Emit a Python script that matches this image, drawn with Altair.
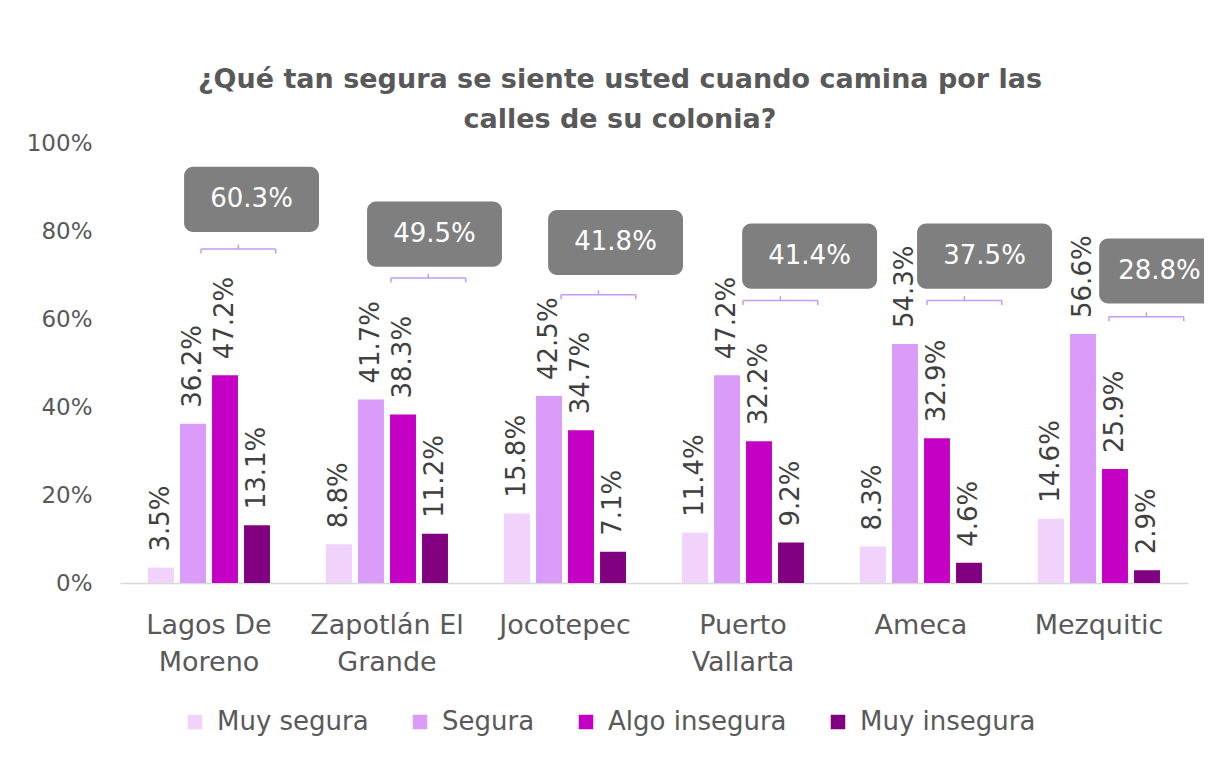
import altair as alt
import pandas as pd

FONT = "DejaVu Sans"

municipios = ["Lagos De\nMoreno", "Zapotlán El\nGrande", "Jocotepec", "Puerto\nVallarta", "Ameca", "Mezquitic"]
series = ["Muy segura", "Segura", "Algo insegura", "Muy insegura"]
muy_segura = [3.5, 8.8, 15.8, 11.4, 8.3, 14.6]
segura = [36.2, 41.7, 42.5, 47.2, 54.3, 56.6]
algo_insegura = [47.2, 38.3, 34.7, 32.2, 32.9, 25.9]
muy_insegura = [13.1, 11.2, 7.1, 9.2, 4.6, 2.9]
inseguridad_total = [60.3, 49.5, 41.8, 41.4, 37.5, 28.8]
colors = ["#f0d2fb", "#da9bf9", "#c400c4", "#800080"]

# callout placement (in value units / group units), as in the original layout
callout_y = [87.2, 79.3, 77.4, 74.3, 74.3, 70.9]
callout_dx = [0.239, 0.267, 0.284, 0.374, 0.357, 0.38]
callout_text_dx = [0.239, 0.267, 0.284, 0.374, 0.357, 0.34]
bracket_y = [75.9, 69.3, 65.5, 64.2, 64.2, 60.5]
bracket_dx = [-0.045, 0.022, -0.022, 0.0, 0.034, 0.056]
BOX_HALF_W = 0.379
BOX_HALF_H = 7.4
BR_W = 0.42
BR_TICK = 1.0

rows = []
for i, m in enumerate(municipios):
    for s, vals in zip(series, [muy_segura, segura, algo_insegura, muy_insegura]):
        rows.append({"municipio": m, "serie": s, "valor": vals[i], "etiqueta": f"{vals[i]:.1f}%"})
df = pd.DataFrame(rows)

ann = []
for i in range(len(municipios)):
    cx = i + callout_dx[i]
    bl = i + bracket_dx[i]
    ann.append({
        "bx1": cx - BOX_HALF_W, "bx2": cx + BOX_HALF_W, "cx": i + callout_text_dx[i],
        "by1": callout_y[i] - BOX_HALF_H, "by2": callout_y[i] + BOX_HALF_H, "cy": callout_y[i],
        "txt": f"{inseguridad_total[i]:.1f}%",
        "l1": bl, "l2": bl + BR_W, "lm": bl + BR_W / 2,
        "ly": bracket_y[i], "ly_lo": bracket_y[i] - BR_TICK, "ly_hi": bracket_y[i] + BR_TICK,
    })
adf = pd.DataFrame(ann)

yscale = alt.Scale(domain=[0, 100], nice=False)
xq = alt.Scale(domain=[-0.5, len(municipios) - 0.5], nice=False, zero=False)
y_axis = alt.Axis(values=[0, 20, 40, 60, 80, 100], labelExpr="datum.value + '%'",
                  grid=False, domain=False, ticks=False, labelFontSize=23,
                  labelColor="#595959", labelFont=FONT, labelPadding=28)

x_band = alt.X("municipio:N", sort=municipios, title=None,
               scale=alt.Scale(paddingInner=0, paddingOuter=0),
               axis=alt.Axis(labelExpr="split(datum.label, '\\n')", labelAngle=0,
                             labelFontSize=27, labelLineHeight=37, labelColor="#595959",
                             labelFont=FONT, labelPadding=29, ticks=False,
                             domainColor="#d9d9d9", domainWidth=1.5, labelBaseline="top"))
x_off = alt.XOffset("serie:N", sort=series, scale=alt.Scale(paddingInner=0.19, paddingOuter=0.876))

bars = alt.Chart(df).mark_bar().encode(
    x=x_band, xOffset=x_off,
    y=alt.Y("valor:Q", scale=yscale, title=None, axis=y_axis),
    color=alt.Color("serie:N", sort=series, scale=alt.Scale(domain=series, range=colors),
                    legend=alt.Legend(title=None, orient="none", direction="horizontal",
                                      legendX=62, legendY=566, columns=4,
                                      symbolType="square", symbolSize=210,
                                      symbolStrokeWidth=0, labelFontSize=26,
                                      labelColor="#595959", labelLimit=0,
                                      labelFont=FONT, columnPadding=38, labelOffset=9)),
)

labels = alt.Chart(df).mark_text(angle=270, align="left", baseline="middle", dx=16,
                                 fontSize=26, color="#404040", font=FONT).encode(
    x=x_band, xOffset=x_off,
    y=alt.Y("valor:Q", scale=yscale, title=None, axis=y_axis),
    text="etiqueta:N",
)

data_layer = alt.layer(bars, labels)

base = alt.Chart(adf)
boxes = base.mark_rect(cornerRadius=9, color="#7f7f7f").encode(
    x=alt.X("bx1:Q", scale=xq, axis=None), x2="bx2:Q",
    y=alt.Y("by1:Q", scale=yscale, title=None, axis=y_axis), y2="by2:Q",
)
box_text = base.mark_text(color="white", fontSize=26, font=FONT,
                          baseline="middle", align="center").encode(
    x=alt.X("cx:Q", scale=xq, axis=None),
    y=alt.Y("cy:Q", scale=yscale, title=None, axis=y_axis),
    text="txt:N",
)
BR_COLOR = "#c59af5"
br_h = base.mark_rule(color=BR_COLOR, strokeWidth=1.5).encode(
    x=alt.X("l1:Q", scale=xq, axis=None), x2="l2:Q",
    y=alt.Y("ly:Q", scale=yscale, title=None, axis=y_axis),
)
br_left = base.mark_rule(color=BR_COLOR, strokeWidth=1.5).encode(
    x=alt.X("l1:Q", scale=xq, axis=None),
    y=alt.Y("ly:Q", scale=yscale, title=None, axis=y_axis), y2="ly_lo:Q",
)
br_right = base.mark_rule(color=BR_COLOR, strokeWidth=1.5).encode(
    x=alt.X("l2:Q", scale=xq, axis=None),
    y=alt.Y("ly:Q", scale=yscale, title=None, axis=y_axis), y2="ly_lo:Q",
)
br_mid = base.mark_rule(color=BR_COLOR, strokeWidth=1.5).encode(
    x=alt.X("lm:Q", scale=xq, axis=None),
    y=alt.Y("ly:Q", scale=yscale, title=None, axis=y_axis), y2="ly_hi:Q",
)
ann_layer = alt.layer(br_h, br_left, br_right, br_mid, boxes, box_text)

chart = alt.layer(data_layer, ann_layer).resolve_scale(x="independent").properties(
    width=1068, height=440,
    autosize=alt.AutoSizeParams(type="none"),
    padding={"left": 112, "top": 135, "right": 16, "bottom": 174},
    title=alt.Title(["¿Qué tan segura se siente usted cuando camina por las", "calles de su colonia?"],
                    fontSize=27, fontWeight="bold", color="#595959", font=FONT,
                    anchor="middle", dx=-34, offset=-2, lineHeight=40),
).configure_view(stroke=None)

chart.save("out.html", embed_options={"renderer": "svg", "actions": False})
